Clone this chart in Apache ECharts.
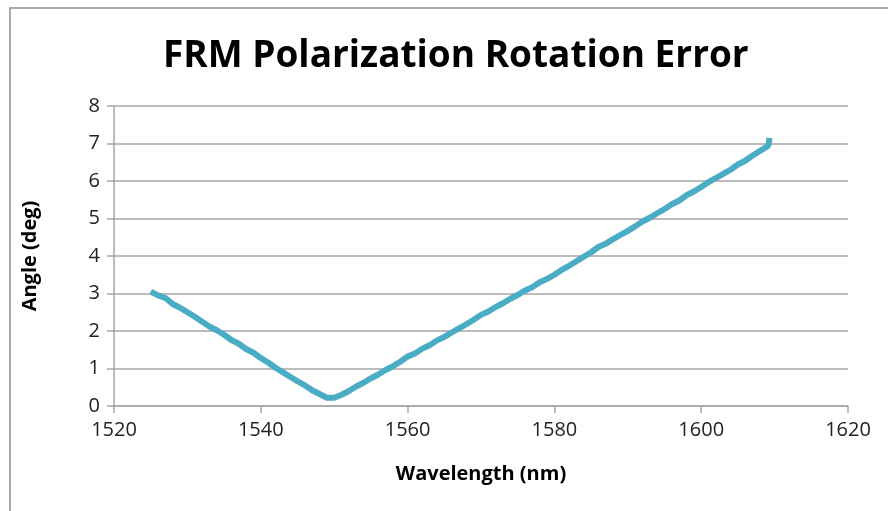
<!DOCTYPE html>
<html>
<head>
<meta charset="utf-8">
<title>FRM Polarization Rotation Error</title>
<script src="https://cdn.jsdelivr.net/npm/echarts@6/dist/echarts.min.js"></script>
<style>
html, body { margin: 0; padding: 0; background: #fff; }
#chart { width: 888px; height: 511px; }
</style>
</head>
<body>
<div id="chart"></div>
<script>
// wavelength (nm) and measured angle (deg)
var wavelength = [
  1525, 1526, 1527, 1528, 1529, 1530, 1531, 1532, 1533, 1534,
  1535, 1536, 1537, 1538, 1539, 1540, 1541, 1542, 1543, 1544,
  1545, 1546, 1547, 1548, 1549, 1550, 1551, 1552, 1553, 1554,
  1555, 1556, 1557, 1558, 1559, 1560, 1561, 1562, 1563, 1564,
  1565, 1566, 1567, 1568, 1569, 1570, 1571, 1572, 1573, 1574,
  1575, 1576, 1577, 1578, 1579, 1580, 1581, 1582, 1583, 1584,
  1585, 1586, 1587, 1588, 1589, 1590, 1591, 1592, 1593, 1594,
  1595, 1596, 1597, 1598, 1599, 1600, 1601, 1602, 1603, 1604,
  1605, 1606, 1607, 1608, 1609, 1609.2, 1609.3
];
var angle = [
  3.05, 2.95, 2.88, 2.72, 2.62, 2.50, 2.38, 2.25, 2.12, 2.02,
  1.90, 1.76, 1.66, 1.52, 1.42, 1.28, 1.16, 1.02, 0.90, 0.78,
  0.66, 0.55, 0.42, 0.32, 0.22, 0.22, 0.30, 0.40, 0.52, 0.62,
  0.74, 0.84, 0.96, 1.06, 1.18, 1.32, 1.40, 1.53, 1.62, 1.75,
  1.84, 1.96, 2.07, 2.18, 2.30, 2.43, 2.52, 2.64, 2.74, 2.86,
  2.96, 3.08, 3.17, 3.30, 3.39, 3.50, 3.63, 3.74, 3.86, 3.98,
  4.10, 4.24, 4.33, 4.45, 4.56, 4.67, 4.79, 4.92, 5.02, 5.14,
  5.25, 5.38, 5.48, 5.62, 5.72, 5.84, 5.97, 6.08, 6.19, 6.30,
  6.44, 6.54, 6.68, 6.80, 6.92, 6.98, 7.15
];

var points = [];
for (var i = 0; i < wavelength.length; i++) {
  points.push([wavelength[i], angle[i]]);
}

var chart = echarts.init(document.getElementById('chart'));
chart.setOption({
  animation: false,
  graphic: [{
    type: 'rect',
    shape: { x: 10, y: 8, width: 900, height: 520 },
    style: { fill: 'none', stroke: '#8f8f8f', lineWidth: 1.5 }
  }],
  title: {
    text: 'FRM Polarization Rotation Error',
    left: 158,
    top: 33,
    textStyle: { fontFamily: 'Open Sans', fontSize: 37, fontWeight: 'bold', color: '#000' }
  },
  grid: { left: 114, right: 40, top: 106, bottom: 105 },
  xAxis: {
    type: 'value',
    min: 1520, max: 1620, interval: 20,
    name: 'Wavelength (nm)',
    nameLocation: 'middle',
    nameGap: 58,
    nameTextStyle: { fontFamily: 'Open Sans', fontSize: 20, fontWeight: 'bold', color: '#000' },
    axisLine: { lineStyle: { color: '#a6a6a6', width: 1.5 } },
    axisTick: { show: true, inside: false, length: 7, lineStyle: { color: '#a6a6a6', width: 1.5 } },
    axisLabel: {
      fontFamily: 'Open Sans', fontSize: 20, color: '#222', margin: 14,
      formatter: function (v) { return String(v); }
    },
    splitLine: { show: false }
  },
  yAxis: {
    type: 'value',
    min: 0, max: 8, interval: 1,
    name: 'Angle (deg)',
    nameLocation: 'middle',
    nameGap: 74,
    nameTextStyle: { fontFamily: 'Open Sans', fontSize: 20, fontWeight: 'bold', color: '#000' },
    axisLine: { show: true, lineStyle: { color: '#a6a6a6', width: 1.5 } },
    axisTick: { show: true, inside: false, length: 7, lineStyle: { color: '#a6a6a6', width: 1.5 } },
    axisLabel: { fontFamily: 'Open Sans', fontSize: 20, color: '#222', margin: 14 },
    splitLine: { show: true, lineStyle: { color: '#a6a6a6', width: 1.5 } }
  },
  series: [{
    type: 'line',
    data: points,
    showSymbol: false,
    symbol: 'none',
    lineStyle: { color: '#4BACC6', width: 6 },
    itemStyle: { color: '#4BACC6' }
  }]
});
</script>
</body>
</html>
